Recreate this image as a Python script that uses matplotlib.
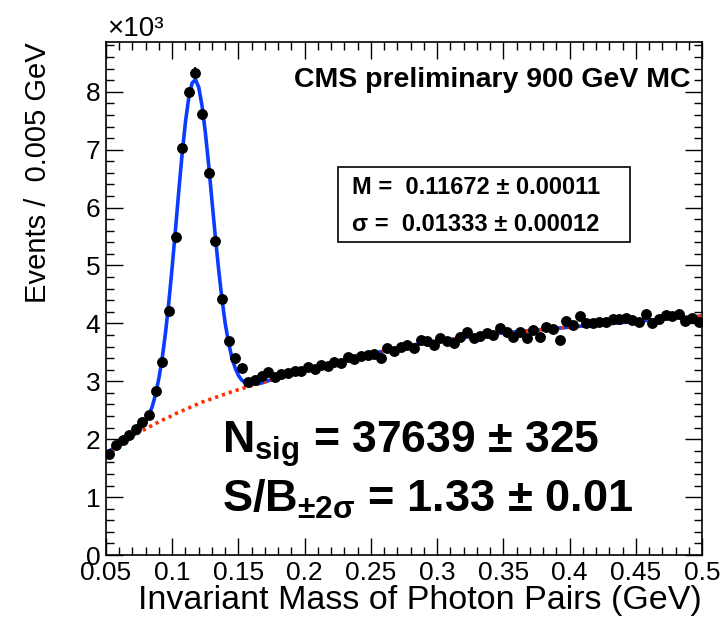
import numpy as np
import matplotlib
matplotlib.use("Agg")
import matplotlib.pyplot as plt
from matplotlib.ticker import MultipleLocator, FuncFormatter

plt.rcParams['font.family'] = ['Liberation Sans', 'DejaVu Sans']
plt.rcParams['mathtext.fontset'] = 'custom'
plt.rcParams['mathtext.rm'] = 'Liberation Sans:bold'
plt.rcParams['mathtext.it'] = 'Liberation Sans:bold'
plt.rcParams['mathtext.bf'] = 'Liberation Sans:bold'

# bin centres (GeV) and events per bin (x 1000)
mass = [0.0525 + 0.005 * i for i in range(90)]
events = [
    1.74, 1.90, 1.98, 2.07, 2.17, 2.30, 2.42, 2.83, 3.33, 4.22,
    5.50, 7.03, 7.99, 8.33, 7.62, 6.60, 5.42, 4.42, 3.70, 3.40,
    3.23, 2.99, 3.02, 3.10, 3.16, 3.08, 3.12, 3.15, 3.18, 3.17,
    3.24, 3.22, 3.28, 3.26, 3.33, 3.31, 3.42, 3.38, 3.44, 3.45,
    3.47, 3.41, 3.57, 3.52, 3.60, 3.63, 3.57, 3.72, 3.69, 3.62,
    3.74, 3.70, 3.66, 3.77, 3.86, 3.74, 3.79, 3.83, 3.80, 3.92,
    3.85, 3.77, 3.86, 3.74, 3.88, 3.77, 3.94, 3.90, 3.72, 4.05,
    3.98, 4.12, 4.00, 4.00, 4.03, 4.02, 4.08, 4.07, 4.09, 4.06,
    4.03, 4.16, 4.00, 4.08, 4.14, 4.12, 4.16, 4.04, 4.10, 4.03,
]

# background fit (red dotted)
bkg_x = [0.05] + mass + [0.5]
bkg_y = [
    1.76,
    1.80, 1.87, 1.94, 2.01, 2.08, 2.15, 2.21, 2.27, 2.33, 2.38,
    2.44, 2.49, 2.54, 2.59, 2.64, 2.68, 2.72, 2.76, 2.80, 2.84,
    2.87, 2.91, 2.94, 2.97, 3.01, 3.04, 3.07, 3.10, 3.14, 3.17,
    3.20, 3.23, 3.26, 3.29, 3.32, 3.35, 3.38, 3.41, 3.43, 3.46,
    3.49, 3.51, 3.54, 3.56, 3.58, 3.61, 3.63, 3.65, 3.67, 3.69,
    3.70, 3.72, 3.73, 3.75, 3.76, 3.78, 3.79, 3.80, 3.82, 3.83,
    3.84, 3.85, 3.86, 3.87, 3.88, 3.89, 3.90, 3.91, 3.92, 3.93,
    3.94, 3.95, 3.96, 3.97, 3.98, 3.99, 4.00, 4.01, 4.02, 4.03,
    4.04, 4.05, 4.06, 4.07, 4.08, 4.09, 4.10, 4.11, 4.11, 4.12,
    4.13,
]

# total fit (blue): background outside the peak, finer steps across the peak
peak_x = [0.07 + 0.0025 * i for i in range(39)]
peak_y = [
    2.06, 2.10, 2.16, 2.23, 2.31, 2.42, 2.57, 2.78, 3.06, 3.41,
    3.85, 4.38, 4.98, 5.63, 6.30, 6.93, 7.48, 7.90, 8.15, 8.21,
    8.08, 7.76, 7.30, 6.74, 6.12, 5.51, 4.94, 4.43, 4.00, 3.67,
    3.41, 3.23, 3.10, 3.02, 2.98, 2.96, 2.95, 2.955, 2.96,
]
lo = [i for i, v in enumerate(bkg_x) if v < 0.07]
hi = [i for i, v in enumerate(bkg_x) if v > 0.165]
fit_x = [bkg_x[i] for i in lo] + peak_x + [bkg_x[i] for i in hi]
fit_y = [bkg_y[i] for i in lo] + peak_y + [bkg_y[i] for i in hi]

fig = plt.figure(figsize=(7.23, 6.22), dpi=100)
ax = fig.add_axes([0.1466, 0.1077, 0.8244, 0.8248])

ax.plot(fit_x, fit_y, color='#0a3cff', lw=2.6, zorder=3)
ax.plot(bkg_x, bkg_y, color='#ff3000', lw=2.6, ls=(0, (0.9, 1.1)), zorder=4)

err = np.sqrt(np.array(events) * 1000) / 1000
ax.errorbar(mass, events, yerr=err, xerr=0.0025, fmt='o', color='black',
            ms=6.8, elinewidth=1.3, capsize=0, zorder=5)

ax.set_xlim(0.05, 0.5)
ax.set_ylim(0, 8.86)

ax.xaxis.set_major_locator(MultipleLocator(0.05))
ax.xaxis.set_minor_locator(MultipleLocator(0.01))
ax.yaxis.set_major_locator(MultipleLocator(1))
ax.yaxis.set_minor_locator(MultipleLocator(0.2))
ax.xaxis.set_major_formatter(FuncFormatter(lambda v, p: ('%.2f' % v).rstrip('0').rstrip('.') if v else '0'))
ax.tick_params(which='both', direction='in', top=True, right=True, labelsize=19, width=1.0)
ax.tick_params(which='major', length=12, pad=4)
ax.tick_params(which='minor', length=6)
for s in ax.spines.values():
    s.set_linewidth(1.2)

ax.set_xlabel('Invariant Mass of Photon Pairs (GeV)', fontsize=24.5, loc='right', labelpad=0)
ax.set_ylabel('Events /  0.005 GeV', fontsize=21, loc='top', labelpad=24)

fig.text(0.148, 0.932, '×10³', fontsize=20, ha='left', va='bottom')

ax.text(0.98, 0.926, 'CMS preliminary 900 GeV MC', transform=ax.transAxes,
        fontsize=20.5, fontweight='bold', ha='right', va='center')

ax.add_patch(plt.Rectangle((0.389, 0.610), 0.490, 0.146, transform=ax.transAxes,
                           fill=False, lw=1.2, edgecolor='black'))
ax.text(0.413, 0.717, 'M =  0.11672 ± 0.00011', transform=ax.transAxes,
        fontsize=17, fontweight='bold', ha='left', va='center')
ax.text(0.413, 0.645, 'σ =  0.01333 ± 0.00012', transform=ax.transAxes,
        fontsize=17, fontweight='bold', ha='left', va='center')

ax.text(0.195, 0.20, r'N$_{\mathrm{sig}}$ = 37639 ± 325', transform=ax.transAxes,
        fontsize=32, fontweight='bold', ha='left', va='baseline')
ax.text(0.195, 0.085, r'S/B$_{\mathrm{\pm2\sigma}}$ = 1.33 ± 0.01', transform=ax.transAxes,
        fontsize=32.5, fontweight='bold', ha='left', va='baseline')

fig.savefig('out.png', dpi=100)
